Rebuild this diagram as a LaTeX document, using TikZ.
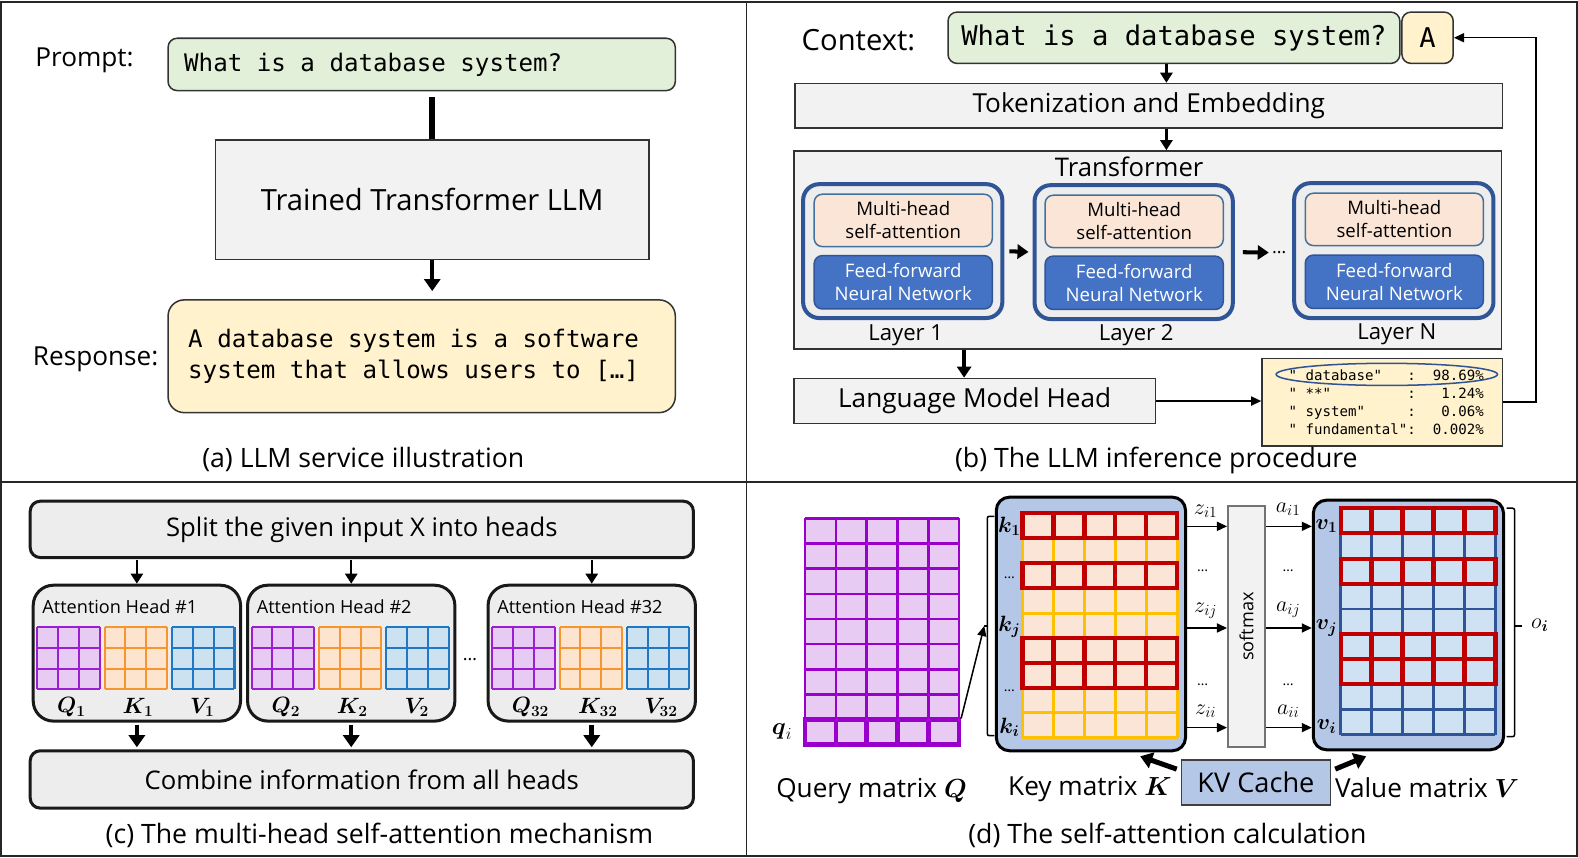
\RequirePackage{fix-cm}
\documentclass[tikz,border=0pt]{standalone}
\usepackage{amsmath}
\usepackage{fontspec}
\setmainfont{Open Sans}
\setsansfont{Open Sans}
\setmonofont{DejaVu Sans Mono}
\usetikzlibrary{arrows.meta,calc,shapes.geometric}

\definecolor{greenfill}{HTML}{E2F0D9}
\definecolor{yellowfill}{HTML}{FFF2CC}
\definecolor{grayfill}{HTML}{F2F2F2}
\definecolor{headfill}{HTML}{EDEDED}
\definecolor{darkblue}{HTML}{2F5597}
\definecolor{ffnblue}{HTML}{4472C4}
\definecolor{peach}{HTML}{FBE5D6}
\definecolor{mhsaline}{HTML}{41719C}
\definecolor{kvblue}{HTML}{B4C7E7}
\definecolor{qfill}{HTML}{E8CBF3}
\definecolor{qline}{HTML}{9C1ED3}
\definecolor{qlined}{HTML}{9900CC}
\definecolor{kfillc}{HTML}{FCE4CF}
\definecolor{klinec}{HTML}{F7952F}
\definecolor{vfillc}{HTML}{CCE2F1}
\definecolor{vlinec}{HTML}{1F78C6}
\definecolor{klined}{HTML}{FFC000}
\definecolor{kfilld}{HTML}{FBE5D6}
\definecolor{vfilld}{HTML}{CFE2F3}
\definecolor{vlined}{HTML}{2F5597}
\definecolor{redrow}{HTML}{C00000}

\newcommand\fsz[2]{\fontsize{#1}{#2}\selectfont}
\newcommand\msp{\spaceskip=0.602em\relax\xspaceskip=0.602em\relax}
% x0, y0, cols, rows, cellw, cellh, fill opts, line opts
\newcommand\cellgrid[8]{%
  \fill[#7] (#1,#2) rectangle ({#1+#3*#5},{#2+#4*#6});
  \foreach \ii in {0,...,#3}{\draw[#8] ({#1+\ii*#5},#2) -- ({#1+\ii*#5},{#2+#4*#6});}
  \foreach \jj in {0,...,#4}{\draw[#8] (#1,{#2+\jj*#6}) -- ({#1+#3*#5},{#2+\jj*#6});}
}
% x0, y0, cellw, cellh, list of rows
\newcommand\redrows[5]{%
  \foreach \rr in {#5}{\foreach \ii in {0,...,4}{%
    \draw[draw=redrow,line width=4pt] ({#1+\ii*#3},{#2+\rr*#4}) rectangle ++(#3,#4);}}
}
% head grids: left x of head
\newcommand\headgrids[1]{%
  \cellgrid{#1+4}{623}{3}{3}{20.67}{20.67}{fill=qfill}{draw=qline,line width=2pt}
  \cellgrid{#1+71}{623}{3}{3}{20.67}{20.67}{fill=kfillc}{draw=klinec,line width=2pt}
  \cellgrid{#1+138}{623}{3}{3}{20.67}{20.67}{fill=vfillc}{draw=vlinec,line width=2pt}
}

\begin{document}
\begin{tikzpicture}[x=1pt,y=-1pt,
  every node/.style={inner sep=0pt},
  lab/.style={font=\fsz{26}{31}},
  capt/.style={font=\fsz{26.5}{31}},
  sbox/.style={draw=black!80,line width=1.5pt},
  rbox/.style={draw=black!80,line width=1.5pt,rounded corners=9pt},
  layer/.style={draw=darkblue,line width=4pt,rounded corners=16pt,fill=headfill},
  mhsa/.style={draw=mhsaline,line width=1.5pt,rounded corners=8pt,fill=peach,minimum width=177,minimum height=52,align=center,font=\fsz{18.5}{23}},
  ffn/.style={draw=darkblue,line width=1.5pt,rounded corners=8pt,fill=ffnblue,text=white,minimum width=177,minimum height=53,align=center,font=\fsz{18.5}{23}},
  cbox/.style={draw=black!90,line width=3pt,rounded corners=10pt,fill=headfill},
  hbox/.style={draw=black!90,line width=3pt,rounded corners=20pt,fill=headfill,minimum width=206,minimum height=135},
  thinarrow/.style={line width=1.5pt,-{Triangle[length=10pt,width=9pt]}},
  medarrow/.style={line width=2.5pt,-{Triangle[length=10pt,width=12pt]}},
  thickarrow/.style={line width=4pt,-{Triangle[length=11pt,width=14pt]}},
  heavyarrow/.style={line width=5pt,-{Triangle[length=12pt,width=16pt]}},
  mlab/.style={font=\fsz{22}{26}},
  hlab/.style={font=\fsz{22}{26}},
]
\useasboundingbox (0,0) rectangle (1568,852);
\fill[white] (0,0) rectangle (1568,852);
\draw[line width=2pt,black!85] (1,1.5) rectangle (1567,850.5);
\draw[line width=1.5pt,black!85] (742,1.5) -- (742,850.5);
\draw[line width=1.5pt,black!85] (1,479) -- (1567,479);

% ---------------- (a)
\node[lab] (promptlab) at (84,60) {Prompt:};
\node[rbox,fill=greenfill,minimum width=504,minimum height=52,text width=472pt,inner xsep=16pt,align=left,font=\fsz{24}{31}\ttfamily] (prompt) at (419,64) {\msp What is a database system?};
\node[sbox,fill=grayfill,minimum width=431,minimum height=119,font=\fsz{29}{34}] (llm) at (429.5,198.5) {Trained Transformer LLM};
\node[rbox,rounded corners=16pt,fill=yellowfill,minimum width=504,minimum height=112,text width=464pt,inner xsep=20pt,align=left,font=\fsz{24}{31}\ttfamily] (resp) at (419,354) {\msp A database system is a software\\system that allows users to […]};
\node[lab] (resplab) at (95,357) {Response:};
\draw[line width=6pt,shorten <=6pt] (llm.north |- prompt.south) -- (llm.north);
\draw[line width=4pt,-{Triangle[length=12pt,width=16pt]},shorten >=8pt] (llm.south) -- (resp.north -| llm.south);
\node[capt] (capa) at (361,457) {(a) LLM service illustration};

% ---------------- (b)
\node[font=\fsz{29}{34}] (ctxlab) at (853,40) {Context:};
\node[rbox,fill=greenfill,minimum width=449,minimum height=51,font=\fsz{27}{32}\ttfamily] (ctx) at (1166.5,37.5) {What is a database system?};
\node[rbox,fill=yellowfill,minimum width=51,minimum height=51,font=\fsz{27}{32}\ttfamily] (ans) at (1418.5,37.5) {A};
\node[sbox,fill=grayfill,minimum width=703,minimum height=44,font=\fsz{26}{31}] (tok) at (1141.5,105) {Tokenization and Embedding};
\node[sbox,fill=grayfill,minimum width=703,minimum height=197] (trans) at (1140.5,248.5) {};
\node[font=\fsz{25.5}{30}] (transtitle) at (1122,166) {Transformer};

\node[layer,minimum width=198,minimum height=133] (l1) at (897,249.5) {};
\node[mhsa] (m1) at (897.5,219) {Multi-head\\self-attention};
\node[ffn] (f1) at (897.5,280.5) {Feed-forward\\Neural Network};
\node[mlab] (l1lab) at (900,333) {Layer 1};

\node[layer,minimum width=197,minimum height=133] (l2) at (1126.5,250.5) {};
\node[mhsa] (m2) at (1127,220) {Multi-head\\self-attention};
\node[ffn] (f2) at (1127,281) {Feed-forward\\Neural Network};
\node[mlab] (l2lab) at (1129,333) {Layer 2};

\node[layer,minimum width=198,minimum height=134] (lN) at (1385,249) {};
\node[mhsa] (mN) at (1385.5,218) {Multi-head\\self-attention};
\node[ffn] (fN) at (1385.5,280) {Feed-forward\\Neural Network};
\node[mlab] (lNlab) at (1388,332) {Layer N};

\node[font=\fsz{18}{22}] (ldots) at (1271,251) {…};
\draw[thickarrow,shorten <=5pt,shorten >=4pt] (l1.east) -- (l2.west);
\draw[thickarrow,shorten <=8pt,shorten >=3pt] (l2.east) -- (ldots.west);

\coordinate (c1) at (1159,0);
\draw[medarrow] (ctx.south -| c1) -- (tok.north -| c1);
\draw[medarrow] (tok.south -| c1) -- (trans.north -| c1);

\node[sbox,fill=grayfill,minimum width=359,minimum height=45,font=\fsz{26}{31}] (lmh) at (968.5,398.5) {Language Model Head};
\coordinate (c2) at (958,0);
\draw[thickarrow] (trans.south -| c2) -- (lmh.north -| c2);

\node[sbox,fill=yellowfill,minimum width=239,minimum height=87,text width=186pt,inner xsep=26.5pt,align=left,font=\fsz{14}{18}\ttfamily] (prob) at (1373.5,399.5)
 {\msp"~database"~~~:~~98.69\%\\"~**"~~~~~~~~~:~~~1.24\%\\"~system"~~~~~:~~~0.06\%\\"~fundamental":~~0.002\%};
\node[ellipse,draw=darkblue,line width=1.5pt,minimum width=220,minimum height=22] (ell) at (1378,372) {};
\draw[thinarrow] (lmh.east) -- (lmh.east -| prob.west);
\coordinate (fb) at (1526,0);
\draw[thinarrow] (prob.east) -- (prob.east -| fb) -- (ans.east -| fb) -- (ans.east);
\node[capt] (capb) at (1149,458) {(b) The LLM inference procedure};

% ---------------- (c)
\node[cbox,minimum width=659,minimum height=56,font=\fsz{25.5}{30}] (split) at (359.5,526) {Split the given input X into heads};
\node[hbox] (h1) at (136,649) {};
\node[hbox] (h2) at (349,649) {};
\node[hbox] (h32) at (588,649) {};
\node[anchor=west,font=\fsz{18}{22}] (t1) at (42,603) {Attention Head \#1};
\node[anchor=west,font=\fsz{18}{22}] (t2) at (255,603) {Attention Head \#2};
\node[anchor=west,font=\fsz{18}{22}] (t32) at (494,603) {Attention Head \#32};
\headgrids{33}
\headgrids{246}
\headgrids{485}
\node[hlab] (lq1) at (71,703) {$\boldsymbol{Q_1}$};
\node[hlab] (lk1) at (137,703) {$\boldsymbol{K_1}$};
\node[hlab] (lv1) at (201,703) {$\boldsymbol{V_1}$};
\node[hlab] (lq2) at (284,703) {$\boldsymbol{Q_2}$};
\node[hlab] (lk2) at (350,703) {$\boldsymbol{K_2}$};
\node[hlab] (lv2) at (414,703) {$\boldsymbol{V_2}$};
\node[hlab] (lq32) at (527,703) {$\boldsymbol{Q_{32}}$};
\node[hlab] (lk32) at (594,703) {$\boldsymbol{K_{32}}$};
\node[hlab] (lv32) at (657,703) {$\boldsymbol{V_{32}}$};
\node[font=\fsz{18}{22}] (hdots) at (467,655) {…};
\node[cbox,minimum width=659,minimum height=57,font=\fsz{25.5}{30}] (comb) at (359.5,774.5) {Combine information from all heads};
\draw[medarrow,shorten <=1pt] (split.south -| h1) -- (h1.north);
\draw[medarrow,shorten <=1pt] (split.south -| h2) -- (h2.north);
\draw[medarrow,shorten <=1pt] (split.south -| h32) -- (h32.north);
\draw[heavyarrow,line width=4.5pt,shorten <=2pt,shorten >=2pt] (h1.south) -- (comb.north -| h1);
\draw[heavyarrow,line width=4.5pt,shorten <=2pt,shorten >=2pt] (h2.south) -- (comb.north -| h2);
\draw[heavyarrow,line width=4.5pt,shorten <=2pt,shorten >=2pt] (h32.south) -- (comb.north -| h32);
\node[capt] (capc) at (377,830) {(c) The multi-head self-attention mechanism};

% ---------------- (d)
% query matrix
\cellgrid{800}{515}{5}{9}{30.6}{25}{fill=qfill}{draw=qlined,line width=2.5pt}
\foreach \ii in {0,...,4}{\draw[draw=qlined,line width=4.5pt] ({800+\ii*30.6},715) rectangle ++(30.6,25);}
\node[font=\fsz{24}{28}] (qi) at (777,727) {$\boldsymbol{q}_i$};
\coordinate (qitop) at (955,714);
\draw[line width=1.5pt,rounded corners=2pt] (988,513) -- (981,513) -- (981,731) -- (988,731);
\coordinate (brk) at (978,622);
\draw[line width=1.5pt] (981,622) -- (brk);
\draw[thinarrow] (qitop) -- (brk);

% key matrix
\node[draw=black,line width=3pt,rounded corners=13pt,fill=kvblue,minimum width=188,minimum height=252] (kbox) at (1084,620) {};
\cellgrid{1016}{510}{5}{9}{30.8}{24.8}{fill=kfilld}{draw=klined,line width=3pt}
\redrows{1016}{510}{30.8}{24.8}{0,2,5,6}
\node[mlab] (k1) at (1003,523) {$\boldsymbol{k_1}$};
\node[font=\fsz{14}{16}] (kd1) at (1003,574) {…};
\node[mlab] (kj) at (1003,623) {$\boldsymbol{k_j}$};
\node[font=\fsz{14}{16}] (kd2) at (1003,686) {…};
\node[mlab] (ki) at (1003,723) {$\boldsymbol{k_i}$};

% softmax
\node[draw=black!55,line width=1.5pt,fill=grayfill,minimum width=37,minimum height=239] (sm) at (1238.5,622.5) {};
\node[rotate=90,font=\fsz{18}{22}] (smtext) at (sm.center) {softmax};

% value matrix
\node[draw=black,line width=3pt,rounded corners=13pt,fill=kvblue,minimum width=189,minimum height=248] (vbox) at (1399.5,621) {};
\cellgrid{1332}{505}{5}{9}{30.8}{25}{fill=vfilld}{draw=vlined,line width=2.5pt}
\redrows{1332}{505}{30.8}{25}{0,2,5,6}
\node[mlab] (v1) at (1318,523) {$\boldsymbol{v_1}$};
\node[mlab] (vj) at (1318,624) {$\boldsymbol{v_j}$};
\node[mlab] (vi) at (1318,722) {$\boldsymbol{v_i}$};

% score arrows
\coordinate (r1) at (0,523);
\coordinate (rj) at (0,624);
\coordinate (ri) at (0,723);
\draw[thinarrow] (kbox.east |- r1) -- (sm.west |- r1);
\draw[thinarrow] (kbox.east |- rj) -- (sm.west |- rj);
\draw[thinarrow] (kbox.east |- ri) -- (sm.west |- ri);
\draw[thinarrow] (sm.east |- r1) -- (vbox.west |- r1);
\draw[thinarrow] (sm.east |- rj) -- (vbox.west |- rj);
\draw[thinarrow] (sm.east |- ri) -- (vbox.west |- ri);
\node[mlab] (z1) at (1198,508) {$z_{i1}$};
\node[mlab] (zj) at (1198,607) {$z_{ij}$};
\node[mlab] (zi) at (1198,707) {$z_{ii}$};
\node[mlab] (a1) at (1280,506) {$a_{i1}$};
\node[mlab] (aj) at (1280,606) {$a_{ij}$};
\node[mlab] (ai) at (1280,707) {$a_{ii}$};
\node[font=\fsz{14}{16}] (zd1) at (1195,567) {…};
\node[font=\fsz{14}{16}] (zd2) at (1195,680) {…};
\node[font=\fsz{14}{16}] (ad1) at (1280,567) {…};
\node[font=\fsz{14}{16}] (ad2) at (1280,680) {…};

% output brace
\draw[line width=1.5pt,rounded corners=2pt] (1497,505) -- (1505,505) -- (1505,732) -- (1497,732);
\coordinate (obr) at (1512,622);
\draw[line width=1.5pt] (1505,622) -- (obr);
\node[mlab] (oi) at (1530,621) {$o_{\boldsymbol{i}}$};

% KV cache
\node[draw=black!75,line width=1.5pt,fill=kvblue,minimum width=148,minimum height=45,font=\fsz{27}{32}] (kv) at (1248,777.5) {KV Cache};
\draw[heavyarrow] ([xshift=-4pt,yshift=-10pt]kv.north west) -- ([xshift=49pt,yshift=-4pt]kbox.south);
\draw[heavyarrow] ([xshift=4pt,yshift=-10pt]kv.north east) -- ([xshift=-42pt,yshift=-5pt]vbox.south);

\node[lab] (qlab) at (866,786) {Query matrix $\boldsymbol{Q}$};
\node[lab] (klab) at (1083,784) {Key matrix $\boldsymbol{K}$};
\node[lab] (vlab) at (1418,783) {Value matrix $\boldsymbol{V}$};
\node[capt] (capd) at (1160,830) {(d) The self-attention calculation};
\end{tikzpicture}
\end{document}
